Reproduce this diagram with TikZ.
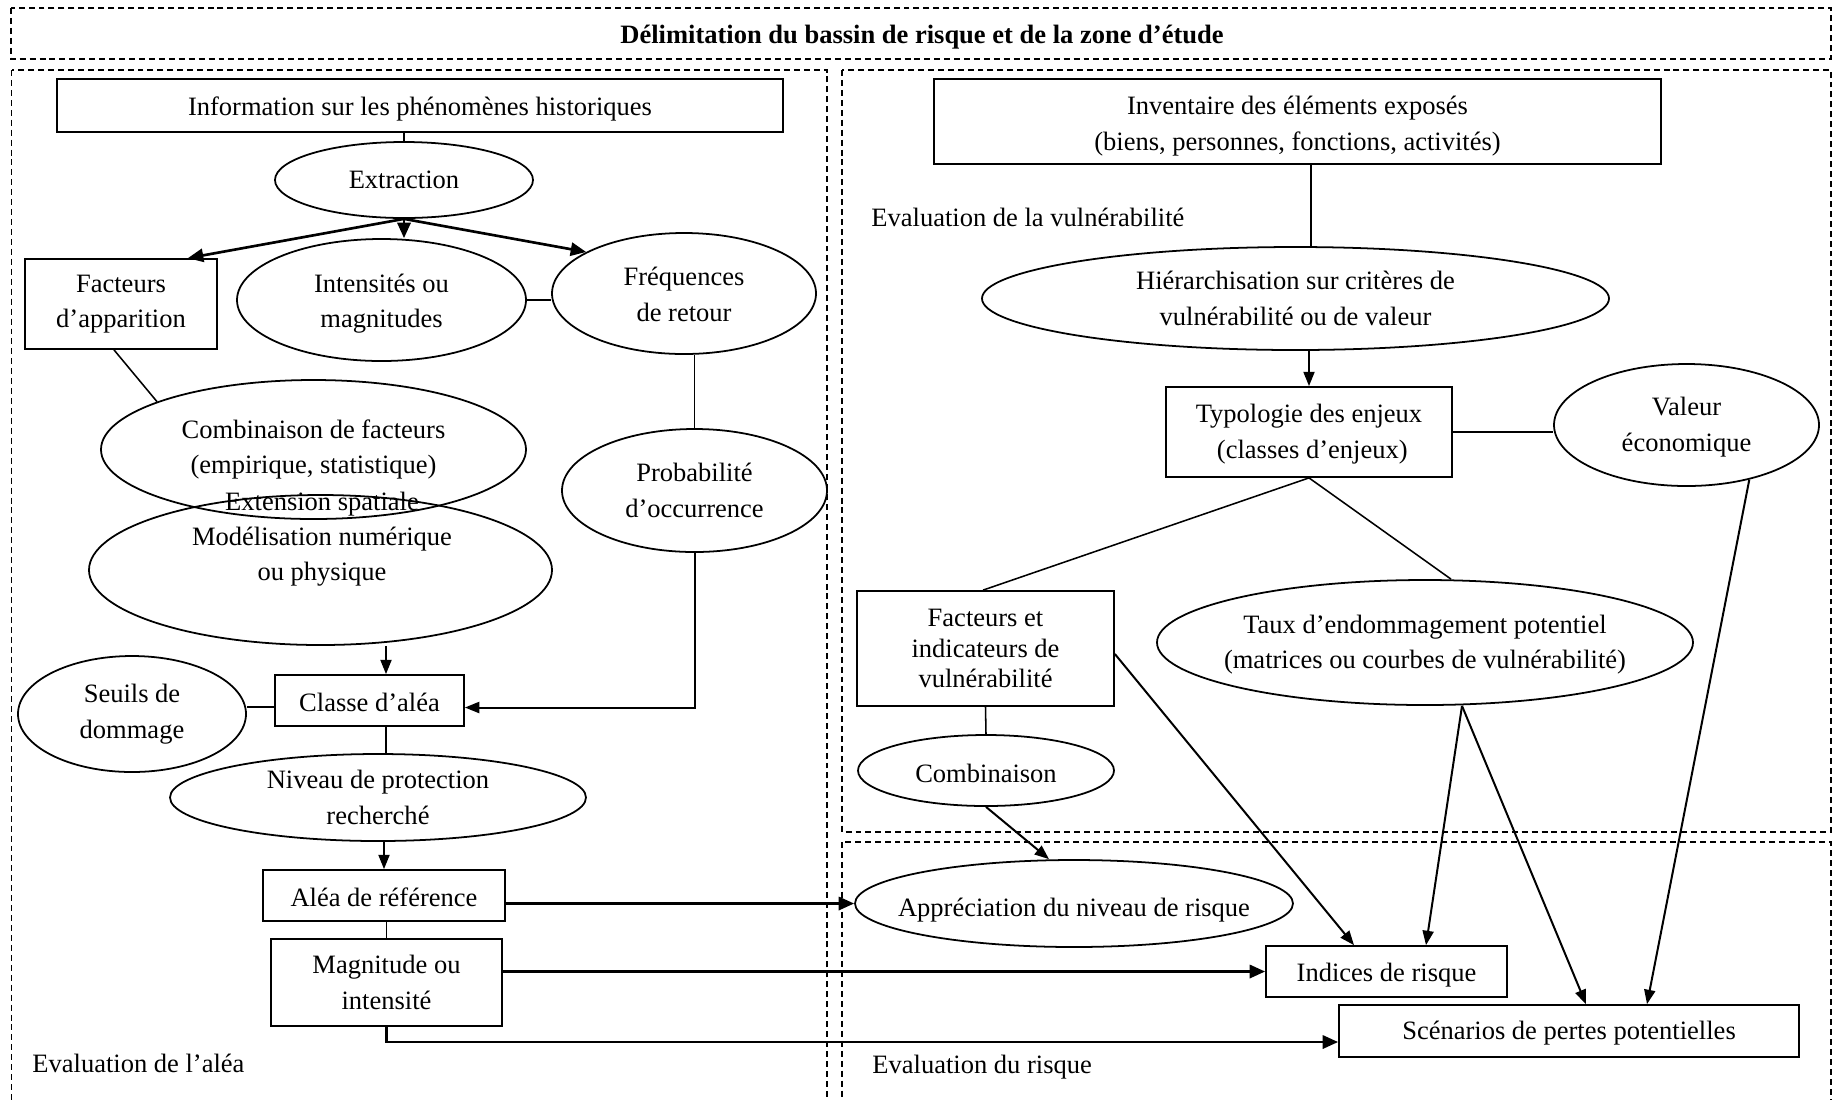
\documentclass[tikz,border=0pt]{standalone}
\usepackage{fontspec}
\setmainfont{Liberation Serif}
\usetikzlibrary{shapes.geometric,arrows.meta,calc}
\newcommand\dn[1]{\rule{0pt}{#1}}
\begin{document}
\begin{tikzpicture}[x=0.4526pt,y=-0.4526pt,
  font=\fontsize{12}{16}\selectfont,
  every node/.style={inner sep=0pt, align=center},
  box/.style={draw, line width=0.8pt, rectangle},
  ell/.style={draw, line width=0.8pt, ellipse, inner xsep=-150pt, inner ysep=-30pt},
  sz/.style 2 args={minimum width=#1*0.4526pt, minimum height=#2*0.4526pt},
  lab/.style={anchor=west},
  zone/.style={draw, line width=0.7pt, dash pattern=on 2.7pt off 1.8pt},
  ln/.style={line width=0.7pt},
  arr/.style={line width=0.9pt, -{Triangle[length=6.5pt,width=5pt]}},
  tarr/.style={line width=1.2pt, -{Triangle[length=7pt,width=6pt]}},
]
\useasboundingbox (0,0) rectangle (1834,1099);

% zones
\draw[zone] (11,8) rectangle (1831,59);
\draw[zone] (11.5,70) rectangle (827,1130);
\draw[zone] (842,70) rectangle (1831,832);
\draw[zone] (842,842) rectangle (1831,1130);
\node[font=\fontsize{12}{16}\selectfont\bfseries] (title) at (922,33) {\dn{12.4pt}Délimitation du bassin de risque et de la zone d’étude};

% left: hazard
\node[box, sz={726}{53}] (info) at (420,105.5) {\dn{11.4pt}Information sur les phénomènes historiques};
\node[ell, sz={258}{76}] (extr) at (404,180) {Extraction};
\node[box, sz={192}{90}] (fapp) at (121,304) {Facteurs\\d’apparition};
\node[ell, sz={289}{122}] (inten) at (381.5,300) {\dn{11.9pt}Intensités ou\\magnitudes};
\node[ell, sz={264}{121}] (freq) at (684,293.5) {\dn{9.2pt}Fréquences\\de retour};
\node[ell, sz={425}{139}] (comb) at (313.5,449.5) {Combinaison de facteurs\\(empirique, statistique)};
\node[ell, sz={265}{123}] (proba) at (694.5,490.5) {Probabilité\\d’occurrence};
\node[ell, sz={463}{150}] (model) at (320.5,570) {};
\node (modeltxt) at (322,539) {Extension spatiale\\Modélisation numérique\\ou physique};
\node[box, sz={189}{51}] (classe) at (369.5,700.5) {\dn{10.3pt}Classe d’aléa};
\node[ell, sz={228}{116}] (seuils) at (132,714) {Seuils de\\dommage};
\node[ell, sz={416}{87}] (niveau) at (378,797.5) {Niveau de protection\\recherché};
\node[box, sz={242}{51}] (alea) at (384,895.5) {\dn{10.3pt}Aléa de référence};
\node[box, sz={231}{87}] (magn) at (386.5,982.5) {Magnitude ou\\intensité};
\node[lab] (ealea) at (32,1063) {Evaluation de l’aléa};

% right: vulnerability
\node[box, sz={727}{85}] (inv) at (1297.5,121.5) {\dn{12.4pt}Inventaire des éléments exposés\\(biens, personnes, fonctions, activités)};
\node[lab] (evuln) at (871,217) {Evaluation de la vulnérabilité};
\node[ell, sz={627}{103}] (hier) at (1295.5,298.5) {Hiérarchisation sur critères de\\vulnérabilité ou de valeur};
\node[box, sz={286}{90}] (typo) at (1309,432) {\dn{10.3pt}Typologie des enjeux\\\hspace*{3pt}(classes d’enjeux)};
\node[ell, sz={265}{122}] (valeur) at (1686.5,425) {\dn{10.3pt}Valeur\\économique};
\node[box, sz={257}{115}, font=\fontsize{12}{14}\selectfont] (facind) at (985.5,648.5) {Facteurs et\\indicateurs de\\vulnérabilité};
\node[ell, sz={536}{125}] (taux) at (1425,642.5) {\dn{10.3pt}Taux d’endommagement potentiel\\(matrices ou courbes de vulnérabilité)};
\node[ell, sz={256}{71}] (combi) at (986,770.5) {\dn{11.4pt}Combinaison};

% bottom right: risk
\node[ell, sz={438}{87}] (apprec) at (1074,903.5) {\dn{14.6pt}Appréciation du niveau de risque};
\node[box, sz={241}{51}] (indices) at (1386.5,971.5) {\dn{11.4pt}Indices de risque};
\node[box, sz={460}{52}] (scen) at (1569,1031) {\dn{10.3pt}Scénarios de pertes potentielles};
\node[lab] (erisque) at (872,1067) {Evaluation du risque};

% connectors left
\draw[ln] (extr.north |- info.south) -- (extr.north);
\draw[tarr] (extr.south) -- ($(fapp.north east)+(-30,0)$);
\draw[tarr] (extr.south) -- (extr.south |- inten.north);
\draw[tarr] (extr.south) -- (freq.157);
\draw[ln] (inten.east) -- (freq.west |- inten.east);
\draw[ln] (proba.north |- freq.south) -- (proba.north);
\draw[ln] ($(fapp.south)+(-7,0)$) -- (comb.163);
\draw[arr] (proba.south) |- ($(classe.east)+(0,7)$);
\coordinate (cn) at ($(classe.north)+(16.5,0)$);
\draw[arr] (cn |- model.south) -- (cn);
\coordinate (cw) at ($(classe.west)+(0,6.5)$);
\draw[ln] (seuils.east |- cw) -- (cw);
\draw[ln] ($(classe.south)+(16.5,0)$) -- ($(niveau.north)+(8,0)$);
\draw[arr] (alea.north |- niveau.south) -- (alea.north);
\draw[tarr] (alea.east |- apprec.west) -- (apprec.west);
\draw[ln] (magn.north |- alea.south) -- (magn.north);
\draw[tarr] (magn.east |- indices.west) -- (indices.west);
\draw[tarr] (magn.south) |- ($(scen.west)+(0,11)$);

% connectors right
\coordinate (iv) at ($(inv.south)+(13.5,0)$);
\draw[ln] (iv) -- (iv |- hier.north);
\draw[arr] (typo.north |- hier.south) -- (typo.north);
\draw[ln] (typo.east) -- (typo.east -| valeur.west);
\draw[ln] (typo.south) -- ($(facind.north)+(-2.5,0)$);
\draw[ln] (typo.south) -- ($(taux.north)+(26,0)$);
\draw[ln] (facind.south) -- (combi.north);
\draw[arr] (combi.south) -- ($(apprec.north)+(-25,0)$);
\draw[arr] ($(facind.east)+(0,5.5)$) -- ($(indices.north)+(-32.5,0)$);
\coordinate (tb) at ($(taux.south)+(37,0)$);
\draw[arr] (tb) -- ($(indices.north)+(39.5,0)$);
\draw[arr] (tb) -- ($(scen.north)+(17,0)$);
\draw[arr] (valeur.-41) -- ($(scen.north)+(78,0)$);
\end{tikzpicture}
\end{document}
